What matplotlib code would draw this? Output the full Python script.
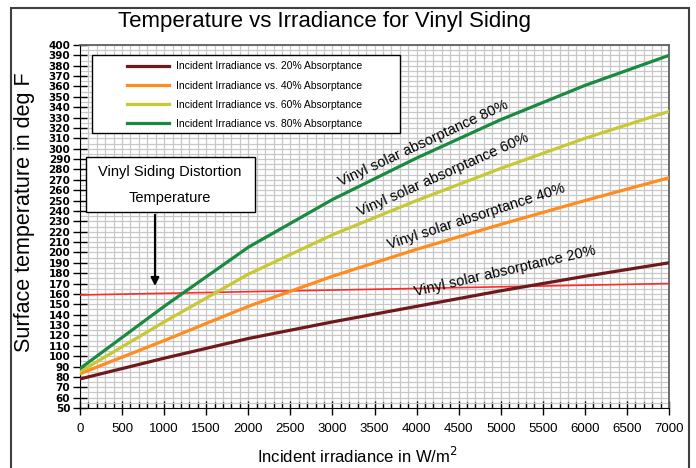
import matplotlib
matplotlib.use('Agg')
import matplotlib.pyplot as plt
from matplotlib.patches import Rectangle
from matplotlib.ticker import MultipleLocator
import numpy as np

plt.rcParams['font.family'] = ['Liberation Sans', 'DejaVu Sans']

# irradiance (W/m2)
irradiance = [0, 1000, 2000, 3000, 4000, 5000, 6000, 7000]
# surface temperature (deg F)
temp_20 = [78, 98, 117, 133, 148, 163, 177, 190]
temp_40 = [83, 115, 148, 177, 203, 227, 250, 272]
temp_60 = [85, 133, 179, 217, 250, 281, 310, 336]
temp_80 = [88, 148, 205, 251, 291, 328, 361, 390]

# distortion temperature line
distort_x = [0, 7000]
distort_y = [159, 170]

labels = ['Incident Irradiance vs. 20% Absorptance',
          'Incident Irradiance vs. 40% Absorptance',
          'Incident Irradiance vs. 60% Absorptance',
          'Incident Irradiance vs. 80% Absorptance']
colors = ['#6e1a1c', '#ff8c1e', '#c8c832', '#1a8a40']

fig = plt.figure(figsize=(6.96, 4.68), dpi=100)
ax = fig.add_axes([80/696, 60/468, 589/696, 363/468])

for ys, lab, c in zip([temp_20, temp_40, temp_60, temp_80], labels, colors):
    ax.plot(irradiance, ys, color=c, lw=2.3, label=lab, zorder=4)
ax.plot(distort_x, distort_y, color='#ff2a2a', lw=1.2, zorder=3)

ax.set_xlim(0, 7000)
ax.set_ylim(50, 400)
ax.xaxis.set_major_locator(MultipleLocator(500))
ax.xaxis.set_minor_locator(MultipleLocator(100))
ax.yaxis.set_major_locator(MultipleLocator(10))
ax.yaxis.set_minor_locator(MultipleLocator(5))
ax.grid(which='both', color='#c8c8c8', lw=0.9, zorder=0)
ax.set_axisbelow(True)

ax.tick_params(axis='x', which='major', direction='inout', length=10, width=1, labelsize=9.5, pad=6)
ax.tick_params(axis='x', which='minor', direction='in', length=4, width=1)
ax.tick_params(axis='y', which='major', direction='inout', length=10, width=1, pad=2)
ax.tick_params(axis='y', which='minor', length=0)
for t in ax.get_yticklabels():
    t.set_fontweight('bold')
    t.set_fontfamily('DejaVu Sans')
    t.set_fontsize(7.5)
for s in ['top', 'right']:
    ax.spines[s].set_color('#606060')
    ax.spines[s].set_linewidth(1.3)

ax.set_xlabel('Incident irradiance in W/m$^2$', fontsize=12)
ax.xaxis.set_label_coords(0.47, -0.105)
ax.set_ylabel('Surface temperature in deg F', fontsize=15.5)
ax.yaxis.set_label_coords(-0.076, 0.54)
fig.text(325/696, 1 - 21/468, 'Temperature vs Irradiance for Vinyl Siding',
         fontsize=16, ha='center', va='center')

# legend box
ax.add_patch(Rectangle((143, 315), 3660, 75, facecolor='white', edgecolor='black', lw=1, zorder=5))
leg = ax.legend(loc='upper left', bbox_to_anchor=(0.08, 0.955), frameon=False,
                fontsize=7.5, handlelength=4.0, handletextpad=0.7, labelspacing=0.88,
                borderpad=0, borderaxespad=0)
leg.set_zorder(6)

# inline curve labels
ax.text(4076, 305, 'Vinyl solar absorptance 80%', rotation=25, fontsize=10.5,
        ha='center', va='center', rotation_mode='anchor', zorder=6)
ax.text(4314, 275, 'Vinyl solar absorptance 60%', rotation=24, fontsize=10.5,
        ha='center', va='center', rotation_mode='anchor', zorder=6)
ax.text(4706, 235, 'Vinyl solar absorptance 40%', rotation=18, fontsize=10.5,
        ha='center', va='center', rotation_mode='anchor', zorder=6)
ax.text(5051, 182, 'Vinyl solar absorptance 20%', rotation=13, fontsize=10.5,
        ha='center', va='center', rotation_mode='anchor', zorder=6)

# distortion temperature callout
ax.add_patch(Rectangle((71, 239), 2009, 53, facecolor='white', edgecolor='black', lw=1, zorder=5))
ax.text(1070, 277.5, 'Vinyl Siding Distortion', fontsize=10.5, ha='center', va='center', zorder=6)
ax.text(1070, 252.5, 'Temperature', fontsize=10.5, ha='center', va='center', zorder=6)
ax.annotate('', xy=(891, 165), xytext=(891, 239),
            arrowprops=dict(arrowstyle='-|>', color='black', lw=1.5, mutation_scale=12), zorder=6)

# outer frame
fig.patches.append(Rectangle((11/696, -0.05), 678/696, 1.05 - 8/468, transform=fig.transFigure,
                             fill=False, edgecolor='#404040', lw=1.5))

fig.savefig('out.png', dpi=100)
